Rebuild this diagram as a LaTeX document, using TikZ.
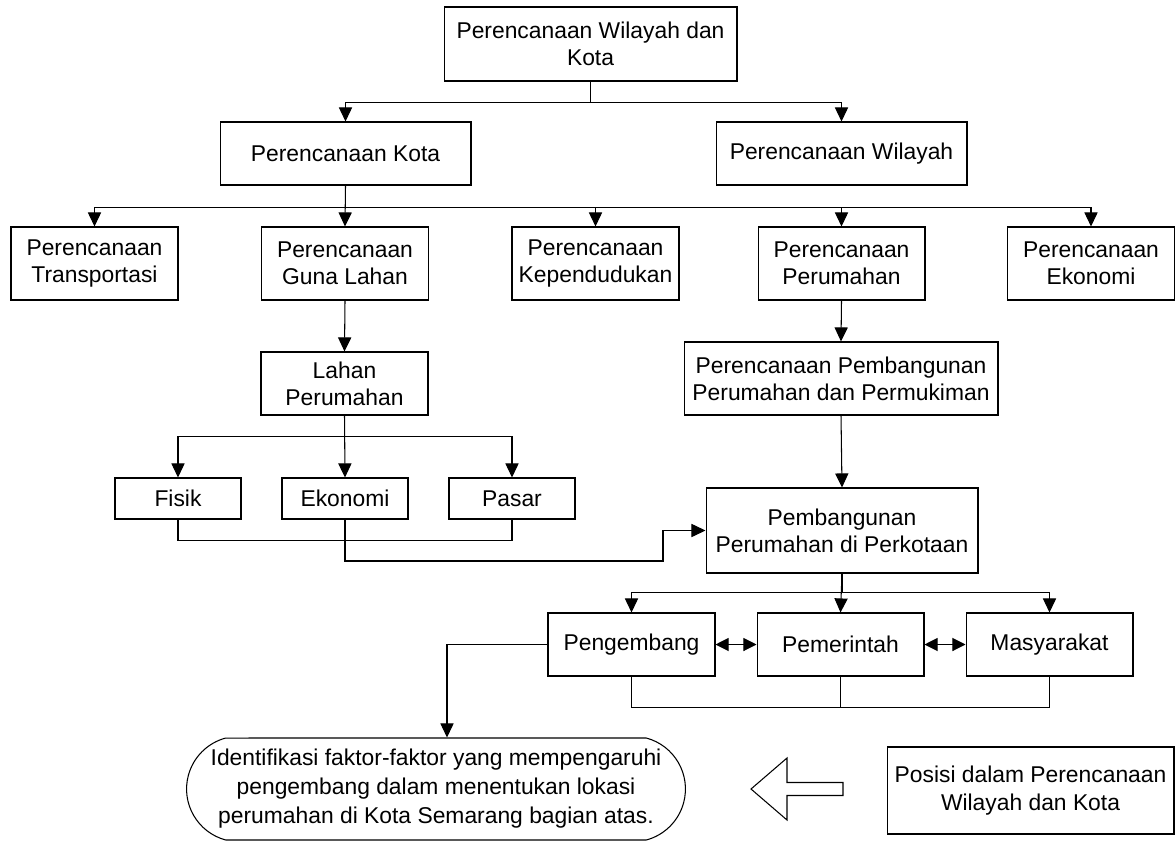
\documentclass[tikz,border=0pt]{standalone}
\usepackage{fontspec}
\setmainfont{Liberation Sans}
\usepackage{tikz}
\usetikzlibrary{arrows.meta,shapes.misc,calc}

\begin{document}
\begin{tikzpicture}[
    x=0.02cm, y=-0.02cm,
    box/.style={draw, rectangle, align=center, inner sep=2pt, line width=0.6pt,
        font=\fontsize{13}{15.5}\selectfont},
    plan/.style={box, minimum width=3.34cm, minimum height=1.46cm},
    small/.style={box, minimum width=2.52cm, minimum height=0.82cm},
    actor/.style={box, minimum width=3.34cm, minimum height=1.26cm},
    arrow/.style={-{Triangle[length=8pt,width=7.5pt]}, line width=0.6pt},
    dbl/.style={{Triangle[length=7.5pt,width=7.5pt]}-{Triangle[length=7.5pt,width=7.5pt]}, line width=0.6pt},
    line/.style={line width=0.6pt}
]
    \useasboundingbox (0,0) rectangle (1175,841);

    \node[box, minimum width=5.86cm, minimum height=1.48cm] (top) at (590.5,44) {Perencanaan Wilayah dan\\Kota};
    \node[box, minimum width=5.02cm, minimum height=1.26cm] (kota) at (345.5,153.5) {Perencanaan Kota};
    \node[box, minimum width=5.02cm, minimum height=1.26cm] (wilayah) at (841.5,153.5) {Perencanaan Wilayah};

    \node[plan] (transport) at (94.5,263.5) {Perencanaan\\Transportasi};
    \node[plan] (gunalahan) at (345,263.5) {Perencanaan\\Guna Lahan};
    \node[plan] (penduduk) at (595.5,263.5) {Perencanaan\\Kependudukan};
    \node[plan] (perumahan) at (841.5,263.5) {Perencanaan\\Perumahan};
    \node[plan] (ekonomiplan) at (1091,263.5) {Perencanaan\\Ekonomi};

    \node[box, minimum width=3.34cm, minimum height=1.26cm] (lahan) at (344.5,383.5) {Lahan\\Perumahan};
    \node[small] (fisik) at (178,498.5) {Fisik};
    \node[small] (ekonomi) at (345,498.5) {Ekonomi};
    \node[small] (pasar) at (512,498.5) {Pasar};

    \node[box, minimum width=6.28cm, minimum height=1.46cm] (permukiman) at (841,378.5) {Perencanaan Pembangunan\\Perumahan dan Permukiman};
    \node[box, minimum width=5.44cm, minimum height=1.70cm] (pembangunan) at (842,530.5) {Pembangunan\\Perumahan di Perkotaan};

    \node[actor] (pengembang) at (631.5,644.5) {Pengembang};
    \node[actor] (pemerintah) at (840.5,644.5) {Pemerintah};
    \node[actor] (masyarakat) at (1049.5,644.5) {Masyarakat};

    \node[box, rounded rectangle, rounded rectangle arc length=150, minimum width=10.12cm, minimum height=2.04cm,
        font=\fontsize{13}{16.5}\selectfont] (identifikasi) at (436,789)
        {Identifikasi faktor-faktor yang mempengaruhi\\pengembang dalam menentukan lokasi\\perumahan di Kota Semarang bagian atas.};
    \node[box, minimum width=5.74cm, minimum height=1.74cm] (posisi) at (1030.5,790.5) {Posisi dalam Perencanaan\\Wilayah dan Kota};

    \draw[line] (843,782.5) -- (787,782.5) -- (787,758) -- (751,789) -- (787,820) -- (787,795.5) -- (843,795.5) -- cycle;

    \draw[arrow] (top.south) -- ++(0,21) -| (kota.north);
    \draw[arrow] (top.south) -- ++(0,21) -| (wilayah.north);

    \draw[arrow] (kota.south) -- (gunalahan.north);
    \draw[arrow] (kota.south) -- ++(0,22) -| (transport.north);
    \draw[arrow] (kota.south) -- ++(0,22) -| (penduduk.north);
    \draw[arrow] (kota.south) -- ++(0,22) -| (perumahan.north);
    \draw[arrow] (kota.south) -- ++(0,22) -| (ekonomiplan.north);

    \draw[arrow] (gunalahan.south) -- (lahan.north);
    \draw[arrow] (lahan.south) -- (ekonomi.north);
    \draw[arrow] (lahan.south) -- ++(0,21) -| (fisik.north);
    \draw[arrow] (lahan.south) -- ++(0,21) -| (pasar.north);

    \draw[line] (fisik.south) -- ++(0,21) -| (pasar.south);
    \draw[arrow] (ekonomi.south) |- (663,561) |- (pembangunan.west);

    \draw[arrow] (perumahan.south) -- (permukiman.north);
    \draw[arrow] (permukiman.south) -- (pembangunan.north);

    \draw[arrow] (pembangunan.south) -- (pemerintah.north);
    \draw[arrow] (pembangunan.south) -- ++(0,19) -| (pengembang.north);
    \draw[arrow] (pembangunan.south) -- ++(0,19) -| (masyarakat.north);

    \draw[dbl] (pengembang) -- (pemerintah);
    \draw[dbl] (pemerintah) -- (masyarakat);

    \draw[line] (pengembang.south) -- ++(0,31) -| (masyarakat.south);
    \draw[line] (pemerintah.south) -- ++(0,31);

    \draw[arrow] (pengembang.west) -| ($(identifikasi.north)+(11,0)$);
\end{tikzpicture}
\end{document}
